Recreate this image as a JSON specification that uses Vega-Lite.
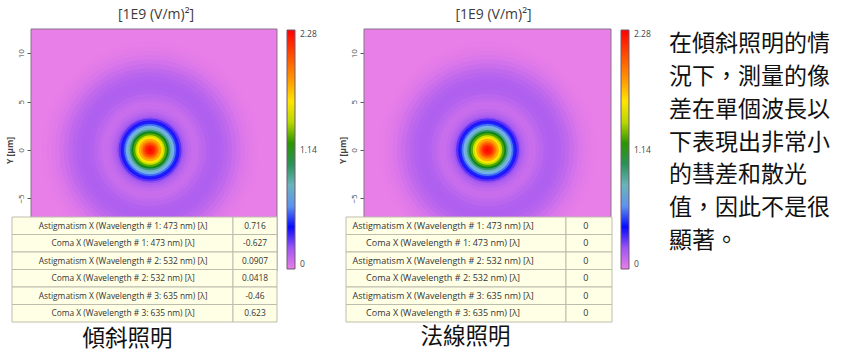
{
"$schema": "https://vega.github.io/schema/vega-lite/v6.json",
"background": "white",
"padding": {"left": 5, "top": 7, "right": 0, "bottom": 0},
"config": {"view": {"stroke": null}, "font": "Open Sans"},
"datasets": {
 "rings": [
  {"r": 12.5, "v": 0.004}, {"r": 12.0, "v": 0.01}, {"r": 11.5, "v": 0.02}, {"r": 11.0, "v": 0.035},
  {"r": 10.5, "v": 0.055}, {"r": 10.0, "v": 0.08}, {"r": 9.5, "v": 0.105}, {"r": 9.0, "v": 0.125},
  {"r": 8.5, "v": 0.14}, {"r": 8.0, "v": 0.15}, {"r": 7.5, "v": 0.15}, {"r": 7.0, "v": 0.14},
  {"r": 6.5, "v": 0.12}, {"r": 6.0, "v": 0.1}, {"r": 5.6, "v": 0.085}, {"r": 5.2, "v": 0.085},
  {"r": 4.8, "v": 0.1}, {"r": 4.4, "v": 0.13}, {"r": 4.1, "v": 0.16}, {"r": 3.85, "v": 0.21},
  {"r": 3.65, "v": 0.28}, {"r": 3.4, "v": 0.35}, {"r": 3.2, "v": 0.44}, {"r": 3.0, "v": 0.54},
  {"r": 2.8, "v": 0.66}, {"r": 2.55, "v": 0.8}, {"r": 2.35, "v": 0.94}, {"r": 2.15, "v": 1.1},
  {"r": 1.95, "v": 1.26}, {"r": 1.7, "v": 1.43}, {"r": 1.5, "v": 1.59}, {"r": 1.3, "v": 1.75},
  {"r": 1.05, "v": 1.89}, {"r": 0.85, "v": 2.02}, {"r": 0.65, "v": 2.13}, {"r": 0.45, "v": 2.21},
  {"r": 0.2, "v": 2.26}, {"r": 0.1, "v": 2.28}
 ],
 "table1": [
  {"row": 1, "name": "Astigmatism X (Wavelength # 1: 473 nm) [λ]", "value": 0.716},
  {"row": 2, "name": "Coma X (Wavelength # 1: 473 nm) [λ]", "value": -0.627},
  {"row": 3, "name": "Astigmatism X (Wavelength # 2: 532 nm) [λ]", "value": 0.0907},
  {"row": 4, "name": "Coma X (Wavelength # 2: 532 nm) [λ]", "value": 0.0418},
  {"row": 5, "name": "Astigmatism X (Wavelength # 3: 635 nm) [λ]", "value": -0.46},
  {"row": 6, "name": "Coma X (Wavelength # 3: 635 nm) [λ]", "value": 0.623}
 ],
 "table2": [
  {"row": 1, "name": "Astigmatism X (Wavelength # 1: 473 nm) [λ]", "value": 0},
  {"row": 2, "name": "Coma X (Wavelength # 1: 473 nm) [λ]", "value": 0},
  {"row": 3, "name": "Astigmatism X (Wavelength # 2: 532 nm) [λ]", "value": 0},
  {"row": 4, "name": "Coma X (Wavelength # 2: 532 nm) [λ]", "value": 0},
  {"row": 5, "name": "Astigmatism X (Wavelength # 3: 635 nm) [λ]", "value": 0},
  {"row": 6, "name": "Coma X (Wavelength # 3: 635 nm) [λ]", "value": 0}
 ],
 "note": [
  {"line": 1, "text": "在傾斜照明的情"},
  {"line": 2, "text": "況下，測量的像"},
  {"line": 3, "text": "差在單個波長以"},
  {"line": 4, "text": "下表現出非常小"},
  {"line": 5, "text": "的彗差和散光"},
  {"line": 6, "text": "值，因此不是很"},
  {"line": 7, "text": "顯著。"}
 ]
},
"bounds": "flush",
"spacing": 87,
"resolve": {"scale": {"color": "independent", "size": "independent"}, "legend": {"color": "independent", "size": "independent"}},
"hconcat": [
   {
    "width": 246, "height": 242,
    "title": {"text": "[1E9 (V/m)²]", "fontSize": 14, "fontWeight": "normal", "color": "#3c3c3c", "offset": 7, "dx": 2, "font": "Open Sans"},
    "resolve": {"scale": {"x": "independent", "y": "independent"}},
    "layer": [
     {
      "layer": [
       {"data": {"values": [{}]}, "mark": {"type": "rect", "fill": "#E87EE8"},
        "encoding": {
         "x": {"datum": -12.1, "type": "quantitative", "scale": {"domain": [-12.1, 12.9], "nice": false, "zero": false},
               "axis": {"title": "傾斜照明", "labels": false, "ticks": false, "domain": false, "grid": false, "titleFont": "Noto Sans CJK TC", "titleFontSize": 22.5, "titleFontWeight": "normal", "titleColor": "#111111", "titleX": 96, "titleY": 67, "titleAlign": "center", "titleBaseline": "middle"}},
         "x2": {"datum": 12.9},
         "y": {"datum": -12.5, "type": "quantitative", "scale": {"domain": [-12.5, 12.5], "nice": false, "zero": false},
               "axis": {"values": [-5, 0, 5, 10], "title": "Y [µm]", "titleFont": "Open Sans", "titleFontSize": 8.5, "titleFontWeight": "bold", "titleColor": "#444444", "titlePadding": 3, "labelAngle": -90, "labelAlign": "center", "labelBaseline": "bottom", "labelFontSize": 8, "labelColor": "#444444", "labelPadding": 2, "tickSize": 4, "tickColor": "#555555", "domain": false, "grid": false}},
         "y2": {"datum": 12.5}}},
       {"data": {"name": "rings"}, "mark": {"type": "point", "shape": "circle", "filled": true, "opacity": 1, "strokeWidth": 0, "clip": true},
        "encoding": {
         "x": {"datum": 0, "type": "quantitative"},
         "y": {"datum": 0, "type": "quantitative"},
         "size": {"field": "r", "type": "quantitative", "scale": {"type": "pow", "exponent": 2, "domain": [0, 12.5], "range": [0, 46681]}, "legend": null},
         "color": {"field": "v", "type": "quantitative",
                   "scale": {"interpolate": "rgb", "domain": [0, 0.205, 0.388, 0.547, 0.707, 0.935, 1.14, 1.368, 1.528, 1.756, 1.984, 2.28], "range": ["#E87EE8", "#9B55F2", "#0000FF", "#4A7AF0", "#88C6E4", "#3E9B7E", "#008000", "#A6CE00", "#FFFF00", "#FFA800", "#FF6000", "#FF0000"]},
                   "legend": {"title": null, "orient": "none", "legendX": 256, "legendY": 1, "direction": "vertical", "gradientLength": 239, "gradientThickness": 8, "values": [0, 1.14, 2.28], "labelExpr": "datum.value === 0 ? '0' : format(datum.value, '.2f')", "labelFontSize": 8.5, "labelColor": "#444444", "labelOffset": 5, "gradientStrokeColor": "#705870", "gradientStrokeWidth": 1, "labelFont": "Open Sans"}},
         "order": {"field": "r", "sort": "descending"}}},
       {"data": {"values": [{}]}, "mark": {"type": "rect", "fill": null, "stroke": "#857585", "strokeWidth": 1},
        "encoding": {"x": {"datum": -12.1, "type": "quantitative"}, "x2": {"datum": 12.9}, "y": {"datum": -12.5, "type": "quantitative"}, "y2": {"datum": 12.5}}}
      ]
     },
     {
      "data": {"name": "table1"},
      "encoding": {"y": {"field": "row", "type": "ordinal", "axis": null, "scale": {"type": "band", "range": [188, 293], "paddingInner": 0, "paddingOuter": 0}}},
      "layer": [
       {"mark": {"type": "rect", "fill": "#FFFFE6", "stroke": "#BDBDAE", "strokeWidth": 1},
        "encoding": {"x": {"datum": 0, "type": "quantitative", "scale": {"domain": [0, 1], "range": [-19, 246]}, "axis": null}, "x2": {"datum": 0.834}}},
       {"mark": {"type": "rect", "fill": "#FFFFE6", "stroke": "#BDBDAE", "strokeWidth": 1},
        "encoding": {"x": {"datum": 0.834, "type": "quantitative", "axis": null}, "x2": {"datum": 1}}},
       {"mark": {"type": "text", "fontSize": 8.4, "color": "#333333", "font": "Open Sans"},
        "encoding": {"x": {"datum": 0.419, "type": "quantitative", "axis": null}, "text": {"field": "name", "type": "nominal"}}},
       {"mark": {"type": "text", "fontSize": 8.4, "color": "#333333", "font": "Open Sans"},
        "encoding": {"x": {"datum": 0.917, "type": "quantitative", "axis": null}, "text": {"field": "value", "type": "nominal"}}}
      ]
     }
    ]
   },
   {
    "width": 247, "height": 242,
    "title": {"text": "[1E9 (V/m)²]", "fontSize": 14, "fontWeight": "normal", "color": "#3c3c3c", "offset": 7, "dx": 6, "font": "Open Sans"},
    "resolve": {"scale": {"x": "independent", "y": "independent"}},
    "layer": [
     {
      "layer": [
       {"data": {"values": [{}]}, "mark": {"type": "rect", "fill": "#E87EE8"},
        "encoding": {
         "x": {"datum": -12.5, "type": "quantitative", "scale": {"domain": [-12.5, 12.5], "nice": false, "zero": false},
               "axis": {"title": "法線照明", "labels": false, "ticks": false, "domain": false, "grid": false, "titleFont": "Noto Sans CJK TC", "titleFontSize": 22.5, "titleFontWeight": "normal", "titleColor": "#111111", "titleX": 101, "titleY": 65, "titleAlign": "center", "titleBaseline": "middle"}},
         "x2": {"datum": 12.5},
         "y": {"datum": -12.5, "type": "quantitative", "scale": {"domain": [-12.5, 12.5], "nice": false, "zero": false},
               "axis": {"values": [-5, 0, 5, 10], "title": "Y [µm]", "titleFont": "Open Sans", "titleFontSize": 8.5, "titleFontWeight": "bold", "titleColor": "#444444", "titlePadding": 3, "labelAngle": -90, "labelAlign": "center", "labelBaseline": "bottom", "labelFontSize": 8, "labelColor": "#444444", "labelPadding": 2, "tickSize": 4, "tickColor": "#555555", "domain": false, "grid": false}},
         "y2": {"datum": 12.5}}},
       {"data": {"name": "rings"}, "mark": {"type": "point", "shape": "circle", "filled": true, "opacity": 1, "strokeWidth": 0, "clip": true},
        "encoding": {
         "x": {"datum": 0, "type": "quantitative"},
         "y": {"datum": 0, "type": "quantitative"},
         "size": {"field": "r", "type": "quantitative", "scale": {"type": "pow", "exponent": 2, "domain": [0, 12.5], "range": [0, 46681]}, "legend": null},
         "color": {"field": "v", "type": "quantitative",
                   "scale": {"interpolate": "rgb", "domain": [0, 0.205, 0.388, 0.547, 0.707, 0.935, 1.14, 1.368, 1.528, 1.756, 1.984, 2.28], "range": ["#E87EE8", "#9B55F2", "#0000FF", "#4A7AF0", "#88C6E4", "#3E9B7E", "#008000", "#A6CE00", "#FFFF00", "#FFA800", "#FF6000", "#FF0000"]},
                   "legend": {"title": null, "orient": "none", "legendX": 257, "legendY": 1, "direction": "vertical", "gradientLength": 239, "gradientThickness": 8, "values": [0, 1.14, 2.28], "labelExpr": "datum.value === 0 ? '0' : format(datum.value, '.2f')", "labelFontSize": 8.5, "labelColor": "#444444", "labelOffset": 5, "gradientStrokeColor": "#705870", "gradientStrokeWidth": 1, "labelFont": "Open Sans"}},
         "order": {"field": "r", "sort": "descending"}}},
       {"data": {"values": [{}]}, "mark": {"type": "rect", "fill": null, "stroke": "#857585", "strokeWidth": 1},
        "encoding": {"x": {"datum": -12.5, "type": "quantitative"}, "x2": {"datum": 12.5}, "y": {"datum": -12.5, "type": "quantitative"}, "y2": {"datum": 12.5}}}
      ]
     },
     {
      "data": {"name": "table2"},
      "encoding": {"y": {"field": "row", "type": "ordinal", "axis": null, "scale": {"type": "band", "range": [188, 293], "paddingInner": 0, "paddingOuter": 0}}},
      "layer": [
       {"mark": {"type": "rect", "fill": "#FFFFE6", "stroke": "#BDBDAE", "strokeWidth": 1},
        "encoding": {"x": {"datum": 0, "type": "quantitative", "scale": {"domain": [0, 1], "range": [-18, 248]}, "axis": null}, "x2": {"datum": 0.827}}},
       {"mark": {"type": "rect", "fill": "#FFFFE6", "stroke": "#BDBDAE", "strokeWidth": 1},
        "encoding": {"x": {"datum": 0.827, "type": "quantitative", "axis": null}, "x2": {"datum": 1}}},
       {"mark": {"type": "text", "fontSize": 9, "color": "#333333", "font": "Open Sans"},
        "encoding": {"x": {"datum": 0.365, "type": "quantitative", "axis": null}, "text": {"field": "name", "type": "nominal"}}},
       {"mark": {"type": "text", "fontSize": 9, "color": "#333333", "font": "Open Sans"},
        "encoding": {"x": {"datum": 0.902, "type": "quantitative", "axis": null}, "text": {"field": "value", "type": "nominal"}}}
      ]
     }
    ]
   },
 {
  "width": 150, "height": 242,
  "data": {"name": "note"},
  "mark": {"type": "text", "align": "left", "baseline": "middle", "font": "Noto Sans CJK TC", "fontSize": 23, "color": "#111111"},
  "encoding": {
   "x": {"datum": 0, "type": "quantitative", "scale": {"domain": [0, 1], "range": [-29, 121]}, "axis": null},
   "y": {"field": "line", "type": "ordinal", "axis": null, "scale": {"type": "point", "range": [15, 212], "padding": 0}},
   "text": {"field": "text", "type": "nominal"}
  }
 }
]
}
